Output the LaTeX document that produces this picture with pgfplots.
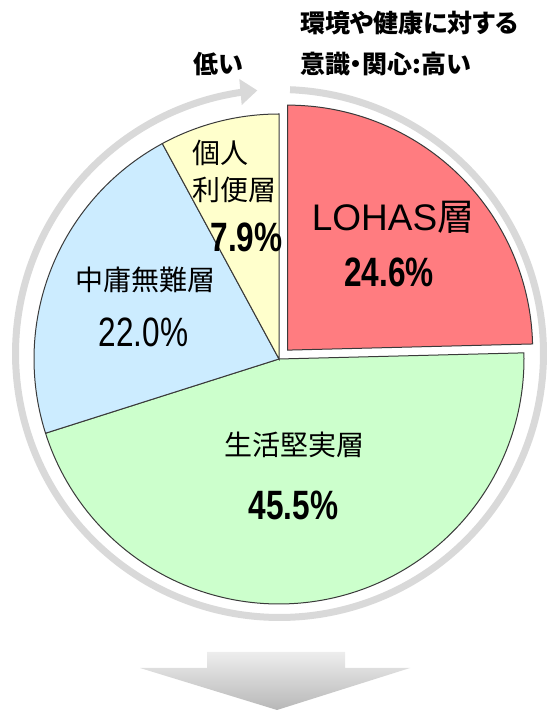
\documentclass[border=0pt]{standalone}
\usepackage{fontspec}
\setmainfont{Liberation Sans}
\newfontfamily\jp{Noto Sans CJK JP}
\newfontfamily\jpb[RawFeature=+palt]{Noto Sans CJK JP}
\newfontfamily\pct[FakeStretch=0.77]{Liberation Sans}
\usepackage{pgfplots}
\pgfplotsset{compat=1.18}
\usepackage{pgfplotstable}
\usetikzlibrary{arrows.meta}
\definecolor{cRed}{HTML}{FF7C80}
\definecolor{cGreen}{HTML}{CCFFCC}
\definecolor{cBlue}{HTML}{CCECFF}
\definecolor{cYellow}{HTML}{FFFFCC}
\definecolor{cLine}{HTML}{3A3A3A}
\definecolor{cRing}{HTML}{D9D9D9}

% shares (%), clockwise from 12 o'clock
\pgfplotstableread{
segment value
LOHAS 24.6
Seikatsu 45.5
Chuyo 22.0
Kojin 7.9
}\piedata
\pgfplotstablegetelem{0}{value}\of\piedata \let\vA\pgfplotsretval
\pgfplotstablegetelem{1}{value}\of\piedata \let\vB\pgfplotsretval
\pgfplotstablegetelem{2}{value}\of\piedata \let\vC\pgfplotsretval
\pgfplotstablegetelem{3}{value}\of\piedata \let\vD\pgfplotsretval
\pgfmathsetmacro\aA{90}
\pgfmathsetmacro\aB{\aA-3.6*\vA}
\pgfmathsetmacro\aC{\aB-3.6*\vB}
\pgfmathsetmacro\aD{\aC-3.6*\vC}
\pgfmathsetmacro\aE{\aD-3.6*\vD}
\pgfmathsetmacro\mid{(\aA+\aB)/2}
\def\cx{279}
\def\cy{352}
\def\R{245}
\pgfmathsetmacro\ex{\cx+12.4*cos(\mid)}
\pgfmathsetmacro\ey{\cy+12.4*sin(\mid)}

\begin{document}
\begin{tikzpicture}
\begin{axis}[at={(0,0)}, anchor=south west,
  width=546pt, height=711pt, scale only axis,
  xmin=0, xmax=546, ymin=0, ymax=711,
  hide axis, clip=false]

% ring arrow
\addplot[line width=7pt, color=cRing, -{Triangle[length=17pt,width=25pt]},
  domain=0:352.9, samples=300, variable=\t]
  ({279.5+264*cos(87.7-t)}, {357.5+264*sin(87.7-t)});

% slices
\addplot[fill=cGreen, draw=cLine, line width=1pt, domain=\aC:\aB, samples=120, variable=\t]
  ({\cx+\R*cos(t)}, {\cy+\R*sin(t)}) -- (axis cs:\cx,\cy) -- cycle;
\addplot[fill=cBlue, draw=cLine, line width=1pt, domain=\aD:\aC, samples=80, variable=\t]
  ({\cx+\R*cos(t)}, {\cy+\R*sin(t)}) -- (axis cs:\cx,\cy) -- cycle;
\addplot[fill=cYellow, draw=cLine, line width=1pt, domain=\aE:\aD, samples=40, variable=\t]
  ({\cx+\R*cos(t)}, {\cy+\R*sin(t)}) -- (axis cs:\cx,\cy) -- cycle;
\addplot[fill=cRed, draw=cLine, line width=1pt, domain=\aB:\aA, samples=80, variable=\t]
  ({\ex+\R*cos(t)}, {\ey+\R*sin(t)}) -- (axis cs:\ex,\ey) -- cycle;

% down arrow
\addplot[draw=none, top color=black!7, bottom color=black!28] coordinates {
  (207,59) (345,59) (345,43) (410,43) (277,1) (140,43) (207,43)} -- cycle;

% labels
\node[inner sep=0] at (axis cs:393,493.5) {\fontsize{37}{37}\selectfont LOHAS{\jp 層}};
\node[inner sep=0] at (axis cs:389,438.5) {\fontsize{41}{41}\selectfont\pct\bfseries 24.6\%};
\node[inner sep=0] at (axis cs:145,431.5) {\fontsize{28}{28}\selectfont\jp 中庸無難層};
\node[inner sep=0] at (axis cs:143.5,379) {\fontsize{41}{41}\selectfont\pct 22.0\%};
\node[inner sep=0] at (axis cs:294,266) {\fontsize{28}{28}\selectfont\jp 生活堅実層};
\node[inner sep=0] at (axis cs:293.5,206) {\fontsize{41}{41}\selectfont\pct\bfseries 45.5\%};
\node[inner sep=0, anchor=west] at (axis cs:192,558.5) {\fontsize{28}{28}\selectfont\jp 個人};
\node[inner sep=0, anchor=west] at (axis cs:192,521.5) {\fontsize{28}{28}\selectfont\jp 利便層};
\node[inner sep=0] at (axis cs:246.5,474) {\fontsize{41}{41}\selectfont\pct\bfseries 7.9\%};

% header
\node[inner sep=0, anchor=west] at (axis cs:300,687.5) {\fontsize{25}{25}\selectfont\jpb\bfseries 環境や健康に対する};
\node[inner sep=0, anchor=west] at (axis cs:300,647) {\fontsize{25}{25}\selectfont\jpb\bfseries 意識・関心:高い};
\node[inner sep=0, anchor=west] at (axis cs:193,647) {\fontsize{25}{25}\selectfont\jpb\bfseries 低い};
\end{axis}
\pgfresetboundingbox
\path[use as bounding box] (0,0) rectangle (546pt,711pt);
\end{tikzpicture}
\end{document}
